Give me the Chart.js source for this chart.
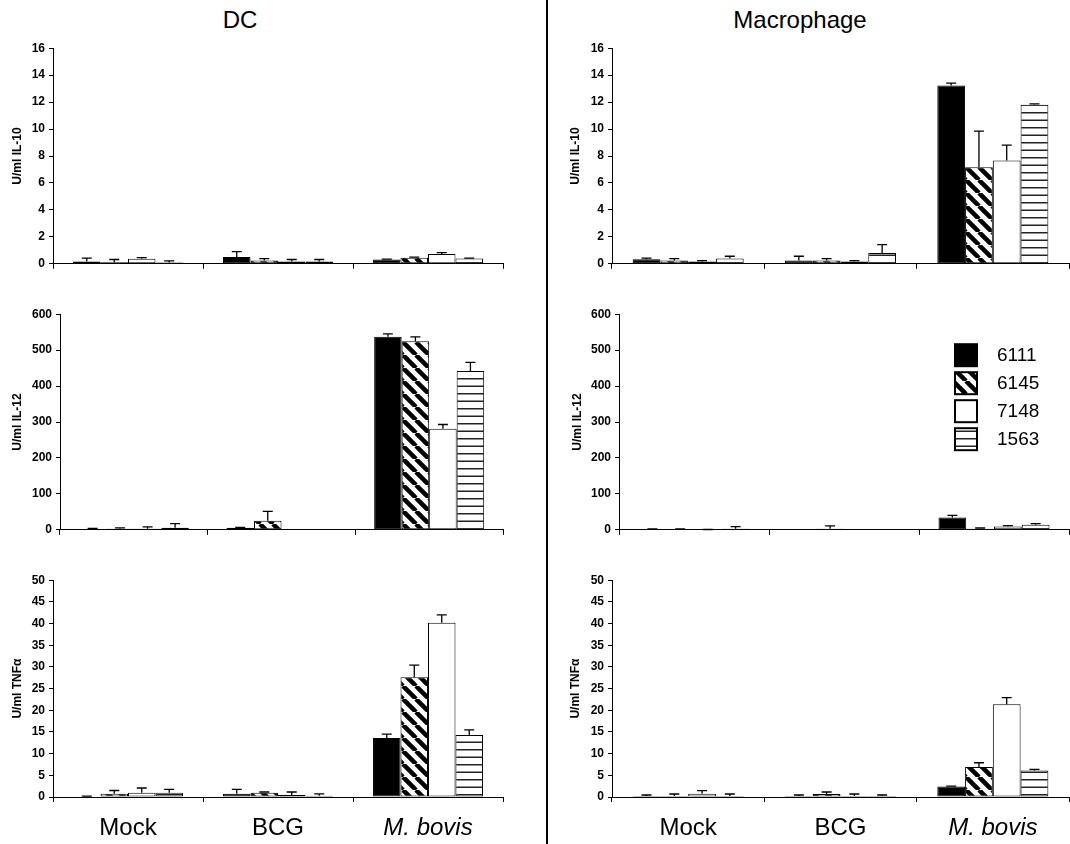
<!DOCTYPE html>
<html>
<head>
<meta charset="utf-8">
<script src="https://cdn.jsdelivr.net/npm/chart.js@4"></script>
<style>
  html, body { margin:0; padding:0; background:#fff; width:1070px; height:844px; overflow:hidden; }
  #wrap { position:relative; width:1070px; height:844px; }
  canvas { position:absolute; }
  .ttl { position:absolute; font-family:'Liberation Sans', Arial, sans-serif; font-size:24px; line-height:24px; color:#000; white-space:nowrap; transform:translateX(-50%); }
  #divider { position:absolute; left:546px; top:0; width:2px; height:844px; background:#000; }
</style>
</head>
<body>
<div id="wrap">
  <div class="ttl" style="left:240px; top:8px;">DC</div>
  <div class="ttl" style="left:800px; top:8px;">Macrophage</div>
  <div id="divider"></div>
  <canvas id="c1" width="505" height="238" style="left:0px; top:37px;"></canvas>
  <canvas id="c2" width="505" height="238" style="left:0px; top:303px;"></canvas>
  <canvas id="c3" width="505" height="275" style="left:0px; top:569px;"></canvas>
  <canvas id="c4" width="520" height="238" style="left:550px; top:37px;"></canvas>
  <canvas id="c5" width="520" height="238" style="left:550px; top:303px;"></canvas>
  <canvas id="c6" width="520" height="275" style="left:550px; top:569px;"></canvas>
</div>
<script>
// ---------- DATA ----------
const categories = ['Mock', 'BCG', 'M. bovis'];
const strains = ['6111', '6145', '7148', '1563'];

// rows = strains (6111, 6145, 7148, 1563); columns = categories (Mock, BCG, M. bovis)
const dcIL10Mean = [[0.17, 0.51, 0.32], [0.12, 0.24, 0.44], [0.37, 0.17, 0.73], [0.10, 0.17, 0.39]];
const dcIL10Err  = [[0.25, 0.39, 0.02], [0.20, 0.15, 0.05], [0.09, 0.15, 0.10], [0.12, 0.15, 0.03]];

const macIL10Mean = [[0.34, 0.24, 13.24], [0.24, 0.24, 7.16], [0.17, 0.17, 7.66], [0.39, 0.80, 11.80]];
const macIL10Err  = [[0.08, 0.32, 0.17], [0.15, 0.15, 2.68], [0.07, 0.07, 1.14], [0.17, 0.62, 0.07]];

const dcIL12Mean = [[2, 5.5, 537], [3, 25, 525], [3, 1, 281], [5.5, 1, 442]];
const dcIL12Err  = [[1.7, 1.5, 8], [2.5, 26, 12], [5, 0, 12], [11.5, 0, 24]];

const macIL12Mean = [[1, 0.5, 34], [1, 3, 3], [0.5, 0.5, 9], [3, 0.5, 14]];
const macIL12Err  = [[1.8, 0, 6], [1.8, 8, 2], [0.3, 0, 2.5], [6, 0, 3]];

const dcTNFMean = [[0.10, 0.77, 13.6], [0.77, 1.00, 27.6], [1.00, 0.46, 40.2], [1.00, 0.30, 14.3]];
const dcTNFErr  = [[0.10, 0.99, 0.9], [0.73, 0.15, 2.8], [1.07, 0.69, 1.8], [0.76, 0.40, 1.2]];

const macTNFMean = [[0.23, 0.23, 2.45], [0.23, 0.69, 6.9], [0.77, 0.23, 21.4], [0.23, 0.23, 6.1]];
const macTNFErr  = [[0.23, 0.23, 0.05], [0.46, 0.46, 1.0], [0.68, 0.46, 1.5], [0.46, 0.23, 0.25]];

const il10Ticks = { max: 16, step: 2 };
const il12Ticks = { max: 600, step: 100 };
const tnfTicks  = { max: 50, step: 5 };

// ---------- STYLE ----------
const FONT = "'Liberation Sans', Arial, Helvetica, sans-serif";

function diagPattern() {
  const s = 13;
  const c = document.createElement('canvas'); c.width = s; c.height = s;
  const g = c.getContext('2d');
  g.fillStyle = '#fff'; g.fillRect(0, 0, s, s);
  g.strokeStyle = '#000'; g.lineWidth = 4.5; g.beginPath();
  for (const o of [-s, 0, s]) { g.moveTo(o, 0); g.lineTo(o + s, s); }
  g.stroke();
  return g.createPattern(c, 'repeat');
}
function horizPattern() {
  const c = document.createElement('canvas'); c.width = 4; c.height = 15;
  const g = c.getContext('2d');
  g.fillStyle = '#fff'; g.fillRect(0, 0, 4, 15);
  g.fillStyle = '#222'; g.fillRect(0, 0, 4, 1.5); g.fillRect(0, 7.5, 4, 1.5);
  return g.createPattern(c, 'repeat');
}
const fills = ['#000', diagPattern(), '#fff', horizPattern()];

const errorBarPlugin = {
  id: 'errorBars',
  afterDatasetsDraw(chart) {
    const ctx = chart.ctx, y = chart.scales.y;
    ctx.save();
    ctx.strokeStyle = '#000'; ctx.lineWidth = 1.3;
    chart.data.datasets.forEach((ds, i) => {
      const meta = chart.getDatasetMeta(i);
      meta.data.forEach((bar, j) => {
        const e = ds.errors[j];
        if (!(e > 0)) return;
        const base = y.getPixelForValue(ds.data[j]);
        const top = y.getPixelForValue(ds.data[j] + e);
        ctx.beginPath();
        ctx.moveTo(bar.x, base); ctx.lineTo(bar.x, top);
        ctx.moveTo(bar.x - 5, top); ctx.lineTo(bar.x + 5, top);
        ctx.stroke();
      });
    });
    ctx.restore();
  }
};

const legendPlugin = {
  id: 'boxLegend',
  afterDraw(chart, args, opts) {
    if (!opts || !opts.show) return;
    const ctx = chart.ctx, area = chart.chartArea;
    ctx.save();
    chart.data.datasets.forEach((ds, i) => {
      const bx = area.right - 114, by = area.top + 30 + i * 28, sz = 22;
      ctx.fillStyle = ds.backgroundColor;
      ctx.fillRect(bx, by, sz, sz);
      ctx.strokeStyle = '#000'; ctx.lineWidth = 2;
      ctx.strokeRect(bx, by, sz, sz);
      ctx.fillStyle = '#000';
      ctx.font = '19px ' + FONT;
      ctx.textAlign = 'left'; ctx.textBaseline = 'middle';
      ctx.fillText(ds.label, bx + 42, by + sz / 2 + 1);
    });
    ctx.restore();
  }
};

function makePanel(id, means, errs, tk, yTitle, opt) {
  const datasets = strains.map((s, i) => ({
    label: s,
    data: means[i],
    errors: errs[i],
    backgroundColor: fills[i],
    borderColor: '#000',
    borderWidth: 1,
    borderSkipped: false,
    barPercentage: 1,
    categoryPercentage: opt.catPct
  }));
  return new Chart(document.getElementById(id), {
    type: 'bar',
    data: { labels: categories, datasets },
    plugins: [errorBarPlugin, legendPlugin],
    options: {
      responsive: false, animation: false, devicePixelRatio: 1,
      layout: { padding: { top: 10, right: opt.padRight, left: 0, bottom: 0 } },
      plugins: {
        legend: { display: false }, tooltip: { enabled: false },
        boxLegend: { show: !!opt.legend }
      },
      scales: {
        x: {
          offset: true,
          grid: { display: true, drawOnChartArea: false, drawTicks: true, tickLength: 5, color: '#000', offset: true },
          border: { display: true, color: '#000', width: 1 },
          ticks: {
            display: !!opt.showX, color: '#000', padding: 12, maxRotation: 0, autoSkip: false,
            font: (c) => ({ family: FONT, size: 24, style: c.index === 2 ? 'italic' : 'normal' })
          },
          afterFit: (s) => { s.height = opt.xH; }
        },
        y: {
          min: 0, max: tk.max,
          ticks: { stepSize: tk.step, color: '#000', padding: 4, font: { family: FONT, size: 12, weight: 'bold' } },
          grid: { drawOnChartArea: false, tickLength: 4, color: '#000' },
          border: { display: true, color: '#000', width: 1 },
          title: { display: true, text: yTitle, color: '#000', padding: { top: opt.titlePad, bottom: 0 },
                   font: { family: FONT, size: 12, weight: 'bold' } },
          afterFit: (s) => { s.width = opt.yW; }
        }
      }
    }
  });
}

makePanel('c1', dcIL10Mean, dcIL10Err, il10Ticks, 'U/ml IL-10', { catPct: 0.733, padRight: 2, yW: 53, xH: 10, titlePad: 10 });
makePanel('c2', dcIL12Mean, dcIL12Err, il12Ticks, 'U/ml IL-12', { catPct: 0.745, padRight: 2, yW: 60, xH: 10, titlePad: 10 });
makePanel('c3', dcTNFMean, dcTNFErr, tnfTicks, 'U/ml TNFα', { catPct: 0.733, padRight: 2, yW: 53, xH: 47, titlePad: 10, showX: true });
makePanel('c4', macIL10Mean, macIL10Err, il10Ticks, 'U/ml IL-10', { catPct: 0.729, padRight: 1, yW: 62, xH: 10, titlePad: 18 });
makePanel('c5', macIL12Mean, macIL12Err, il12Ticks, 'U/ml IL-12', { catPct: 0.74, padRight: 1, yW: 69, xH: 10, titlePad: 20, legend: true });
makePanel('c6', macTNFMean, macTNFErr, tnfTicks, 'U/ml TNFα', { catPct: 0.729, padRight: 1, yW: 62, xH: 47, titlePad: 18, showX: true });
</script>
</body>
</html>
